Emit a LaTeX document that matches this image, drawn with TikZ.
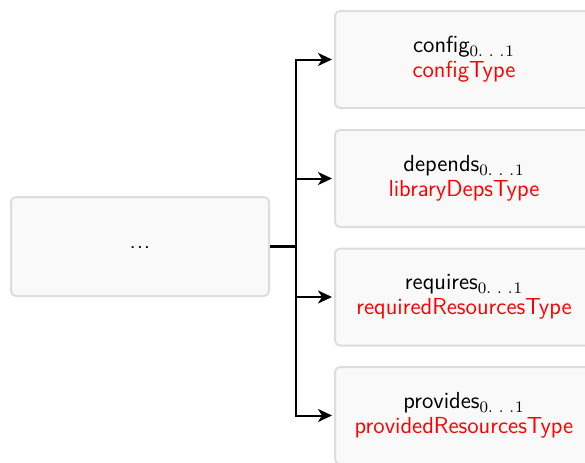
\documentclass[tikz,border=0pt]{standalone}
\usetikzlibrary{arrows.meta}
\definecolor{boxfill}{HTML}{F9F9F9}
\definecolor{boxline}{HTML}{DDDDDD}
\newcommand{\mult}{$_{0.\hspace{3pt}.\hspace{3pt}.\hspace{0.5pt}1}$}
\begin{document}
\begin{tikzpicture}[x=0.5pt,y=-0.5pt,
  elem/.style={draw=boxline, fill=boxfill, line width=1pt, rounded corners=2.5pt,
    minimum width=129pt, minimum height=48.5pt, align=center, inner sep=0pt,
    font=\sffamily\fontsize{11.6}{12.5}\selectfont},
  conn/.style={line width=1pt, -{Stealth[length=7pt,width=6.5pt,inset=2pt]}},
  typ/.style={red}]
\useasboundingbox (0,0) rectangle (585,462);
\node[elem, minimum height=49.5pt] (L) at (140,246.5) {\raisebox{-1.5pt}{.\kern0.4pt.\kern0.4pt.}};
\node[elem] (R1) at (464,59.5) {config\mult\\\textcolor{red}{configType}};
\node[elem] (R2) at (464,178.5) {depends\mult\\\textcolor{red}{libraryDepsType}};
\node[elem] (R3) at (464,297) {requires\mult\\\textcolor{red}{requiredResourcesType}};
\node[elem] (R4) at (464,415.5) {provides\mult\\\textcolor{red}{providedResourcesType}};
\coordinate (J) at (296,246.5);
\draw[line width=1.2pt] (L.east) -- (J);
\foreach \r in {R1,R2,R3,R4}{
  \draw[conn] (J) |- ([xshift=-1pt]\r.west);
}
\end{tikzpicture}
\end{document}
